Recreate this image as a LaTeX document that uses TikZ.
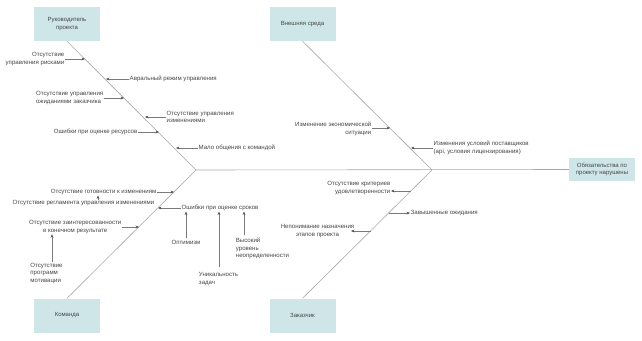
\documentclass[tikz,border=0pt]{standalone}
\usepackage{fontspec}
\setmainfont{Liberation Sans}
\usetikzlibrary{arrows.meta}
\definecolor{boxfill}{HTML}{CFE6E8}
\definecolor{bone}{HTML}{A8A8A8}
\definecolor{txt}{HTML}{444444}
\definecolor{arrc}{HTML}{7A7A7A}
\definecolor{tipc}{HTML}{505050}
\begin{document}
\begin{tikzpicture}[x=1pt,y=-1pt,
  catbox/.style={fill=boxfill,draw=none,minimum width=66pt,minimum height=34pt,inner sep=1pt,align=center,text=txt,font=\fontsize{6}{7.5}\selectfont},
  cause/.style={inner sep=0.5pt,text=txt,font=\fontsize{6.1}{7.5}\selectfont},
  boneline/.style={draw=bone,line width=0.6pt},
  arr/.style={draw=arrc,line width=0.55pt,-{Stealth[length=3.4pt,width=2.8pt,color=tipc]}}]
\useasboundingbox (0,0) rectangle (642,340);
% boxes
\node[catbox] (A) at (67,24) {Руководитель\\проекта};
\node[catbox] (B) at (302.5,24) {Внешняя среда};
\node[catbox] (C) at (67,315.5) {Команда};
\node[catbox] (D) at (302.5,315.5) {Заказчик};
\node[catbox,minimum height=23pt] (E) at (602,169.5) {Обязательства по\\проекту нарушены};
% junctions
\coordinate (J1) at (196,170);
\coordinate (J2) at (432,170);
% bones
\draw[boneline] (A.south) -- (J1);
\draw[boneline] (J1) -- (C.north);
\draw[boneline] (B.south) -- (J2);
\draw[boneline] (J2) -- (D.north);
\draw[boneline] (J1) -- (E.west);
% --- Руководитель проекта
\coordinate (a1) at (85,59);
\coordinate (a2) at (106,79);
\coordinate (a3) at (124,98);
\coordinate (a4) at (145,117);
\coordinate (a5) at (159,132);
\coordinate (a6) at (176,148);
\node[cause,anchor=east,align=right] (ta1) at (65,59) {Отсутствие\\управления рисками};
\node[cause,anchor=west] (ta2) at (129,79) {Авральный режим управления};
\node[cause,anchor=east,align=left] (ta3) at (104,98) {Отсутствие управления\\ожиданиями заказчика};
\node[cause,anchor=west,align=left] (ta4) at (166,117) {Отсутствие управления\\изменениями};
\node[cause,anchor=east] (ta5) at (138,132) {Ошибки при оценке ресурсов};
\node[cause,anchor=west] (ta6) at (198,148) {Мало общения с командой};
\draw[arr] (ta1.east) -- (a1);
\draw[arr] (ta2.west) -- (a2);
\draw[arr] (ta3.east) -- (a3);
\draw[arr] (ta4.west) -- (a4);
\draw[arr] (ta5.east) -- (a5);
\draw[arr] (ta6.west) -- (a6);
% --- Внешняя среда
\coordinate (b1) at (390,128);
\coordinate (b2) at (411,148);
\node[cause,anchor=east,align=right] (tb1) at (372,129) {Изменение экономической\\ситуации};
\node[cause,anchor=west,align=left] (tb2) at (433,148) {Изменения условий поставщиков\\(api, условия лицензирования)};
\draw[arr] (tb1.east |- b1) -- (b1);
\draw[arr] (tb2.west) -- (b2);
% --- Команда
\coordinate (c1) at (174,192);
\coordinate (c2) at (158,208);
\coordinate (c3) at (139,227);
\node[cause,anchor=east] (tc1) at (157,192) {Отсутствие готовности к изменениям};
\node[cause] (tc2) at (83.5,203.5) {Отсутствие регламента управления изменениями};
\node[cause,anchor=west] (tc3) at (181,208) {Ошибки при оценке сроков};
\node[cause] (tc4) at (186,242) {Оптимизм};
\node[cause,align=left] (tc5) at (218.5,279) {Уникальность\\задач};
\node[cause,align=left] (tc6) at (262.5,248.5) {Высокий\\уровень\\неопределенности};
\node[cause,anchor=east,align=center] (tc7) at (122,227) {Отсутствие заинтересованности\\в конечном результате};
\node[cause,align=left] (tc8) at (46.5,273) {Отсутствие\\программ\\мотивации};
\draw[arr] (tc1.east) -- (c1);
\draw[arr] (tc3.west) -- (c2);
\draw[arr] (tc7.east) -- (c3);
\coordinate (r1) at (98,200);
\draw[arr] (r1) -- (tc1.south -| r1);
\draw[arr] ([yshift=1pt]tc4.north) -- (tc3.south -| tc4.north);
\coordinate (u1) at (219,267);
\draw[arr] (u1) -- (tc3.south -| u1);
\coordinate (h1) at (244,235);
\draw[arr] (h1) -- (tc3.south -| h1);
\coordinate (m1) at (52,262);
\draw[arr] (m1) -- (tc7.south -| m1);
% --- Заказчик
\coordinate (d1) at (411,191);
\coordinate (d2) at (389,213);
\coordinate (d3) at (371,231);
\node[cause,anchor=east,align=right] (td1) at (391,188) {Отсутствие критериев\\удовлетворенности};
\node[cause,anchor=west] (td2) at (410,213) {Завышенные ожидания};
\node[cause,anchor=east,align=center] (td3) at (355,231) {Непонимание назначения\\этапов проекта};
\draw[arr] (d1) -- (td1.east |- d1);
\draw[arr] (d2) -- (td2.west);
\draw[arr] (d3) -- ([xshift=-4pt]td3.east);
\end{tikzpicture}
\end{document}
